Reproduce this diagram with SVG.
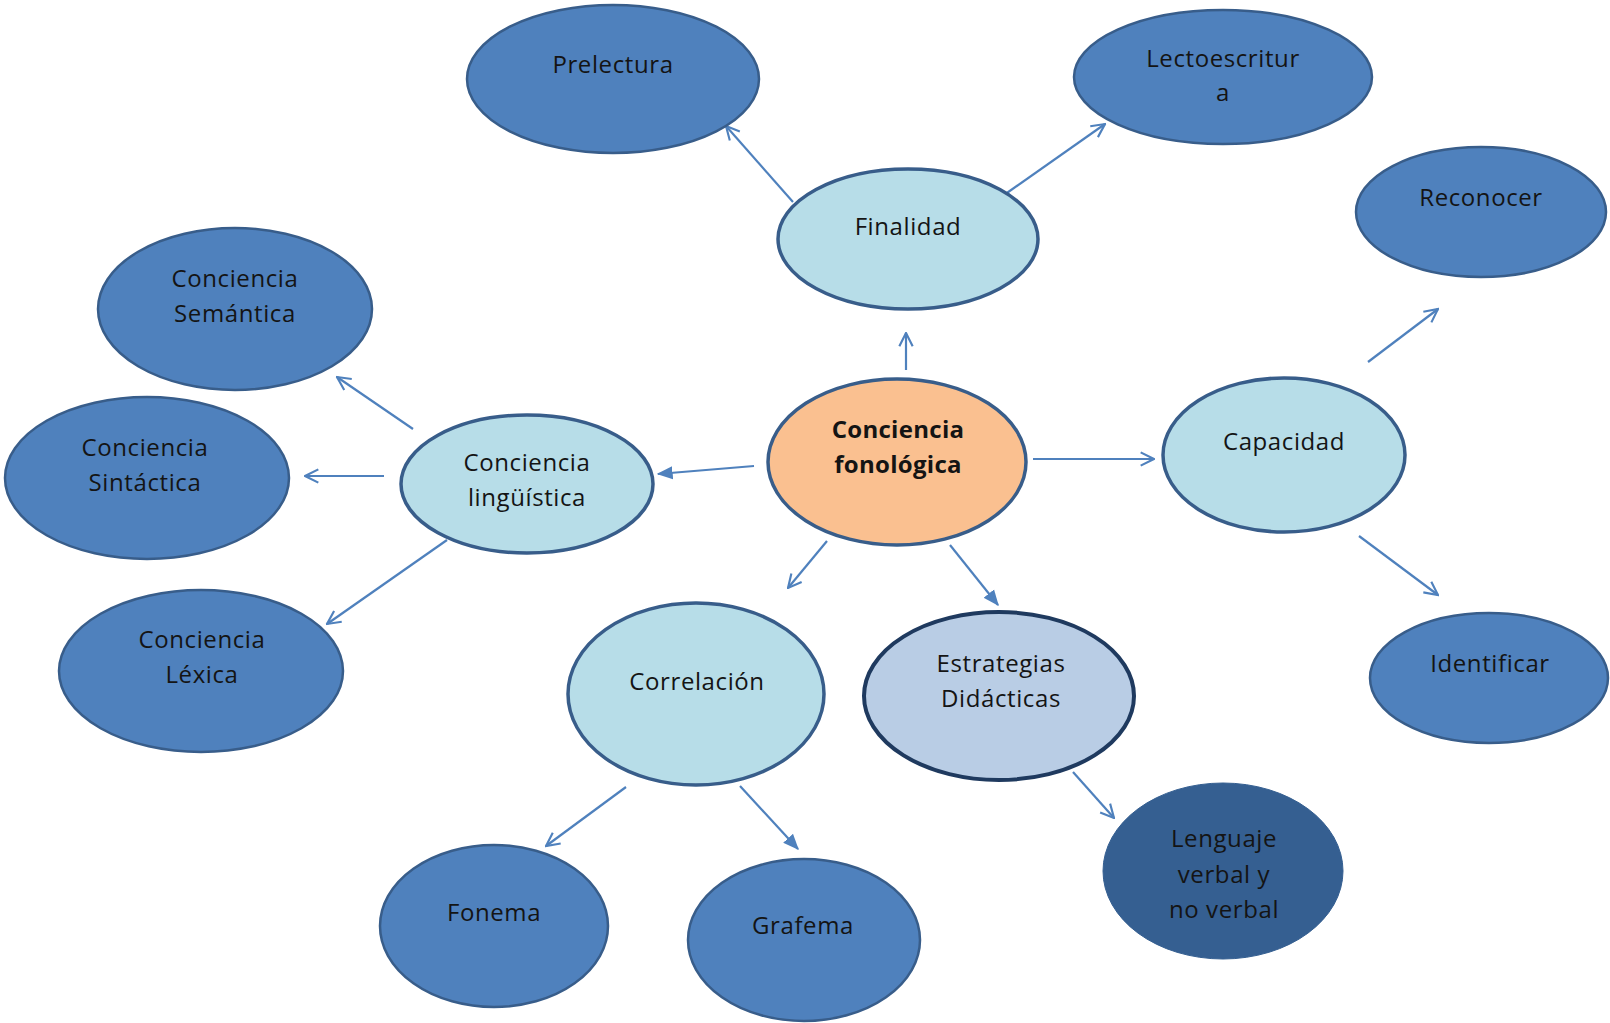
<svg xmlns="http://www.w3.org/2000/svg" width="1610" height="1023" viewBox="0 0 1610 1023">
<defs>
<style>
.dk{fill:#4f81bd;stroke:#385d8a;stroke-width:2.5}
.lt{fill:#b7dde8;stroke:#385d8a;stroke-width:3.5}
.or{fill:#fac090;stroke:#385d8a;stroke-width:3.5}
.st{fill:#b9cde5;stroke:#1f3a5f;stroke-width:4}
.nv{fill:#355f91;stroke:#355f91;stroke-width:1}
text{font-family:"Open Sans","Noto Sans","Liberation Sans",sans-serif;font-size:24px;letter-spacing:0.6px;fill:#141414;text-anchor:middle}
.b{font-weight:bold;letter-spacing:0.3px}
.c{fill:none;stroke:#4f81bd;stroke-width:2.2}
</style>
<marker id="ao" viewBox="0 0 12 12" refX="11" refY="6" markerWidth="16" markerHeight="16" markerUnits="userSpaceOnUse" orient="auto">
<path d="M1,1 L11,6 L1,11" fill="none" stroke="#4f81bd" stroke-width="1.6"/>
</marker>
<marker id="af" viewBox="0 0 12 12" refX="11" refY="6" markerWidth="16" markerHeight="16" markerUnits="userSpaceOnUse" orient="auto">
<path d="M0,1 L12,6 L0,11 Z" fill="#4f81bd"/>
</marker>
</defs>
<rect width="1610" height="1023" fill="#ffffff"/>
<g id="connectors">
<line class="c" x1="793" y1="202" x2="726" y2="126" marker-end="url(#ao)"/>
<line class="c" x1="1004" y1="195" x2="1105" y2="124" marker-end="url(#ao)"/>
<line class="c" x1="906" y1="370" x2="906" y2="333" marker-end="url(#ao)"/>
<line class="c" x1="1368" y1="362" x2="1438" y2="309" marker-end="url(#ao)"/>
<line class="c" x1="1033" y1="459" x2="1154" y2="459" marker-end="url(#ao)"/>
<line class="c" x1="1359" y1="536" x2="1438" y2="595" marker-end="url(#ao)"/>
<line class="c" x1="754" y1="466" x2="658" y2="474" marker-end="url(#af)"/>
<line class="c" x1="413" y1="429" x2="337" y2="377" marker-end="url(#ao)"/>
<line class="c" x1="384" y1="476" x2="305" y2="476" marker-end="url(#ao)"/>
<line class="c" x1="447" y1="540" x2="327" y2="624" marker-end="url(#ao)"/>
<line class="c" x1="827" y1="541" x2="788" y2="588" marker-end="url(#ao)"/>
<line class="c" x1="950" y1="545" x2="998" y2="605" marker-end="url(#af)"/>
<line class="c" x1="626" y1="787" x2="546" y2="846" marker-end="url(#ao)"/>
<line class="c" x1="740" y1="786" x2="798" y2="849" marker-end="url(#af)"/>
<line class="c" x1="1073" y1="772" x2="1114" y2="818" marker-end="url(#ao)"/>
</g>
<g id="prelectura"><ellipse class="dk" cx="613" cy="79" rx="146" ry="74"/><text x="613" y="73">Prelectura</text></g>
<g id="lectoescritura"><ellipse class="dk" cx="1223" cy="77" rx="149" ry="67"/><text x="1223" y="67">Lectoescritur</text><text x="1223" y="101">a</text></g>
<g id="reconocer"><ellipse class="dk" cx="1481" cy="212" rx="125" ry="65"/><text x="1481" y="206">Reconocer</text></g>
<g id="finalidad"><ellipse class="lt" cx="908" cy="239" rx="130" ry="70"/><text x="908" y="235">Finalidad</text></g>
<g id="semantica"><ellipse class="dk" cx="235" cy="309" rx="137" ry="81"/><text x="235" y="287">Conciencia</text><text x="235" y="322">Semántica</text></g>
<g id="sintactica"><ellipse class="dk" cx="147" cy="478" rx="142" ry="81"/><text x="145" y="456">Conciencia</text><text x="145" y="491">Sintáctica</text></g>
<g id="linguistica"><ellipse class="lt" cx="527" cy="484" rx="126" ry="69"/><text x="527" y="471">Conciencia</text><text x="527" y="506">lingüística</text></g>
<g id="fonologica"><ellipse class="or" cx="897" cy="462" rx="129" ry="83"/><text class="b" x="898" y="438">Conciencia</text><text class="b" x="898" y="473">fonológica</text></g>
<g id="capacidad"><ellipse class="lt" cx="1284" cy="455" rx="121" ry="77"/><text x="1284" y="450">Capacidad</text></g>
<g id="lexica"><ellipse class="dk" cx="201" cy="671" rx="142" ry="81"/><text x="202" y="648">Conciencia</text><text x="202" y="683">Léxica</text></g>
<g id="correlacion"><ellipse class="lt" cx="696" cy="694" rx="128" ry="91"/><text x="697" y="690">Correlación</text></g>
<g id="estrategias"><ellipse class="st" cx="999" cy="696" rx="135" ry="84"/><text x="1001" y="672">Estrategias</text><text x="1001" y="707">Didácticas</text></g>
<g id="identificar"><ellipse class="dk" cx="1489" cy="678" rx="119" ry="65"/><text x="1490" y="672">Identificar</text></g>
<g id="fonema"><ellipse class="dk" cx="494" cy="926" rx="114" ry="81"/><text x="494" y="921">Fonema</text></g>
<g id="grafema"><ellipse class="dk" cx="804" cy="940" rx="116" ry="81"/><text x="803" y="934">Grafema</text></g>
<g id="lenguaje"><ellipse class="nv" cx="1223" cy="871" rx="120" ry="88"/><text x="1224" y="847">Lenguaje</text><text x="1224" y="883">verbal y</text><text x="1224" y="918">no verbal</text></g>
</svg>
